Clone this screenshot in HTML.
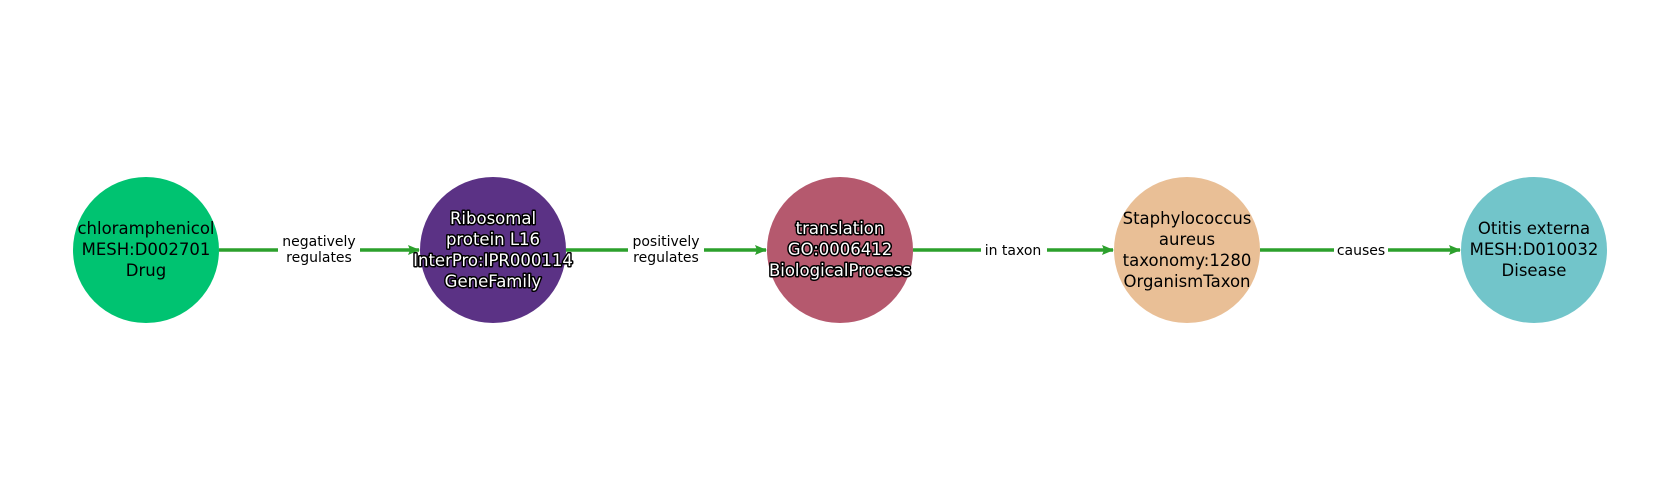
<!DOCTYPE html>
<html><head><meta charset="utf-8"><style>html,body{margin:0;padding:0;background:#fff}svg{display:block}</style></head>
<body>
<svg width="1680" height="500" viewBox="0 0 1680 500" xmlns="http://www.w3.org/2000/svg" font-family="'DejaVu Sans', 'Liberation Sans', sans-serif">
<defs>
<marker id="a" markerWidth="12" markerHeight="12" refX="11" refY="6" orient="auto" markerUnits="userSpaceOnUse">
<path d="M0,1 L12,6 L0,11 L2,6 Z" fill="#2ca02c"/>
</marker>
</defs>
<g stroke="#2ca02c" stroke-width="3.5" marker-end="url(#a)">
<line x1="219" y1="250" x2="419" y2="250"/>
<line x1="566" y1="250" x2="766" y2="250"/>
<line x1="913" y1="250" x2="1113" y2="250"/>
<line x1="1260" y1="250" x2="1460" y2="250"/>
</g>
<g fill="#fff">
<rect x="278" y="232" width="82" height="36"/>
<rect x="628" y="232" width="76" height="36"/>
<rect x="981" y="241" width="66" height="18"/>
<rect x="1334" y="241" width="54" height="18"/>
</g>
<g font-size="14" text-anchor="middle" fill="#000">
<text x="319" y="246">negatively</text><text x="319" y="262">regulates</text>
<text x="666" y="246">positively</text><text x="666" y="262">regulates</text>
<text x="1013" y="255">in taxon</text>
<text x="1361" y="255">causes</text>
</g>
<circle cx="146" cy="250" r="73" fill="#00c371"/>
<circle cx="493" cy="250" r="73" fill="#5b3285"/>
<circle cx="840" cy="250" r="73" fill="#b5596e"/>
<circle cx="1187" cy="250" r="73" fill="#e9bf96"/>
<circle cx="1534" cy="250" r="73" fill="#72c5ca"/>
<g font-size="16.5" text-anchor="middle" fill="#000">
<text x="146" y="234">chloramphenicol</text><text x="146" y="255">MESH:D002701</text><text x="146" y="276">Drug</text>
<text x="1187" y="224">Staphylococcus</text><text x="1187" y="245">aureus</text><text x="1187" y="266">taxonomy:1280</text><text x="1187" y="287">OrganismTaxon</text>
<text x="1534" y="234">Otitis externa</text><text x="1534" y="255">MESH:D010032</text><text x="1534" y="276">Disease</text>
</g>
<g font-size="16.5" text-anchor="middle" fill="#fff" stroke="#000" stroke-width="3" paint-order="stroke" stroke-linejoin="round">
<text x="493" y="224">Ribosomal</text><text x="493" y="245">protein L16</text><text x="493" y="266">InterPro:IPR000114</text><text x="493" y="287">GeneFamily</text>
<text x="840" y="234">translation</text><text x="840" y="255">GO:0006412</text><text x="840" y="276">BiologicalProcess</text>
</g>
</svg>
</body></html>
